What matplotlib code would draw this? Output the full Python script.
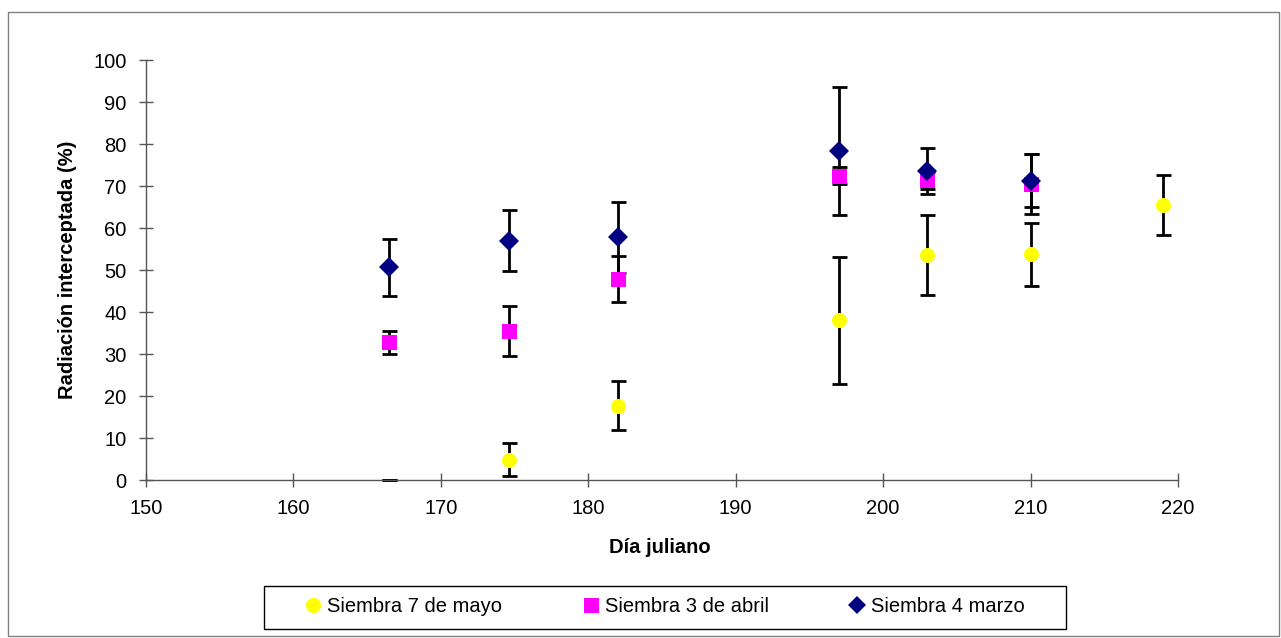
# Radiación interceptada por fecha de siembra
import numpy as np
import matplotlib.pyplot as plt
from matplotlib.lines import Line2D
from matplotlib.patches import Rectangle

plt.rcParams['font.family'] = ['Liberation Sans', 'DejaVu Sans']

# ─── DATA ────────────────────────────────────────────
dias = [166.5, 174.6, 182, 197, 203, 210, 219]

mayo     = [0, 4.8, 17.7, 38.0, 53.6, 53.7, 65.5]
mayo_err = [0, 3.9, 5.8, 15.1, 9.5, 7.4, 7.1]

abril     = [32.8, 35.5, 47.9, 72.5, 71.4, 70.5]
abril_err = [2.7, 6.0, 5.5, 2.0, 2.0, 7.2]

marzo     = [50.6, 57.0, 57.8, 78.4, 73.5, 71.3]
marzo_err = [6.7, 7.2, 8.4, 15.2, 5.5, 6.3]

etiquetas = ['Siembra 7 de mayo', 'Siembra 3 de abril', 'Siembra 4 marzo']
x_ticks = list(range(150, 221, 10))
y_ticks = list(range(0, 101, 10))

# ─── FIGURE ──────────────────────────────────────────
W, H = 1281, 638
fig = plt.figure(figsize=(W / 100, H / 100), dpi=100)
fig.patches.append(Rectangle((8 / W, 2 / H), (1279 - 8) / W, (626 - 2) / H,
                             transform=fig.transFigure, fill=False,
                             edgecolor='#808080', linewidth=1))

ax = fig.add_axes([146 / W, 1 - 480 / H, (1178 - 146) / W, 420 / H])

eb = dict(fmt='none', ecolor='black', elinewidth=2, capsize=5.4,
          capthick=2, clip_on=False, zorder=2)
ax.errorbar(dias, mayo, yerr=mayo_err, **eb)
ax.errorbar(dias[:len(abril)], abril, yerr=abril_err, **eb)
ax.errorbar(dias[:len(marzo)], marzo, yerr=marzo_err, **eb)

# first May point has no marker (value 0)
ax.plot(dias[1:], mayo[1:], 'o', color='#FFFF00', markersize=10.8,
        markeredgewidth=0, zorder=3, clip_on=False)
ax.plot(dias[:len(abril)], abril, 's', color='#FF00FF', markersize=10.8,
        markeredgewidth=0, zorder=4)
ax.plot(dias[:len(marzo)], marzo, 'D', color='#000080', markersize=10.2,
        markeredgewidth=0, zorder=5)

ax.set_xlim(150, 220)
ax.set_ylim(0, 100)
ax.set_xticks(x_ticks)
ax.set_yticks(y_ticks)
for s in ['top', 'right']:
    ax.spines[s].set_visible(False)
for s in ['left', 'bottom']:
    ax.spines[s].set_color('#555555')
    ax.spines[s].set_linewidth(1)
ax.tick_params(direction='inout', length=10, width=1, color='#555555',
               labelsize=14.5, pad=9)

ax.set_xlabel('Día juliano', fontsize=14.5, fontweight='bold')
ax.xaxis.set_label_coords((660 - 146) / 1032, -(538 - 480) / 420)
ax.set_ylabel('Radiación interceptada (%)', fontsize=14.5, fontweight='bold')
ax.yaxis.set_label_coords((77 - 146) / 1032, 0.5)

# ─── LEGEND ──────────────────────────────────────────
handles = [
    Line2D([], [], ls='none', marker='o', color='#FFFF00', markersize=10.8, markeredgewidth=0),
    Line2D([], [], ls='none', marker='s', color='#FF00FF', markersize=10.8, markeredgewidth=0),
    Line2D([], [], ls='none', marker='D', color='#000080', markersize=9, markeredgewidth=0),
]
fig.legend(handles, etiquetas, loc='center', ncol=3, frameon=False,
           bbox_to_anchor=(665 / W, 1 - 607 / H), fontsize=14.5,
           handlelength=0.8, handletextpad=0.3, columnspacing=4.0,
           borderpad=0)
fig.patches.append(Rectangle((264 / W, 1 - 629 / H), (1066 - 264) / W, 43 / H,
                             transform=fig.transFigure, fill=False,
                             edgecolor='black', linewidth=1))

fig.savefig('out.png', dpi=100)
